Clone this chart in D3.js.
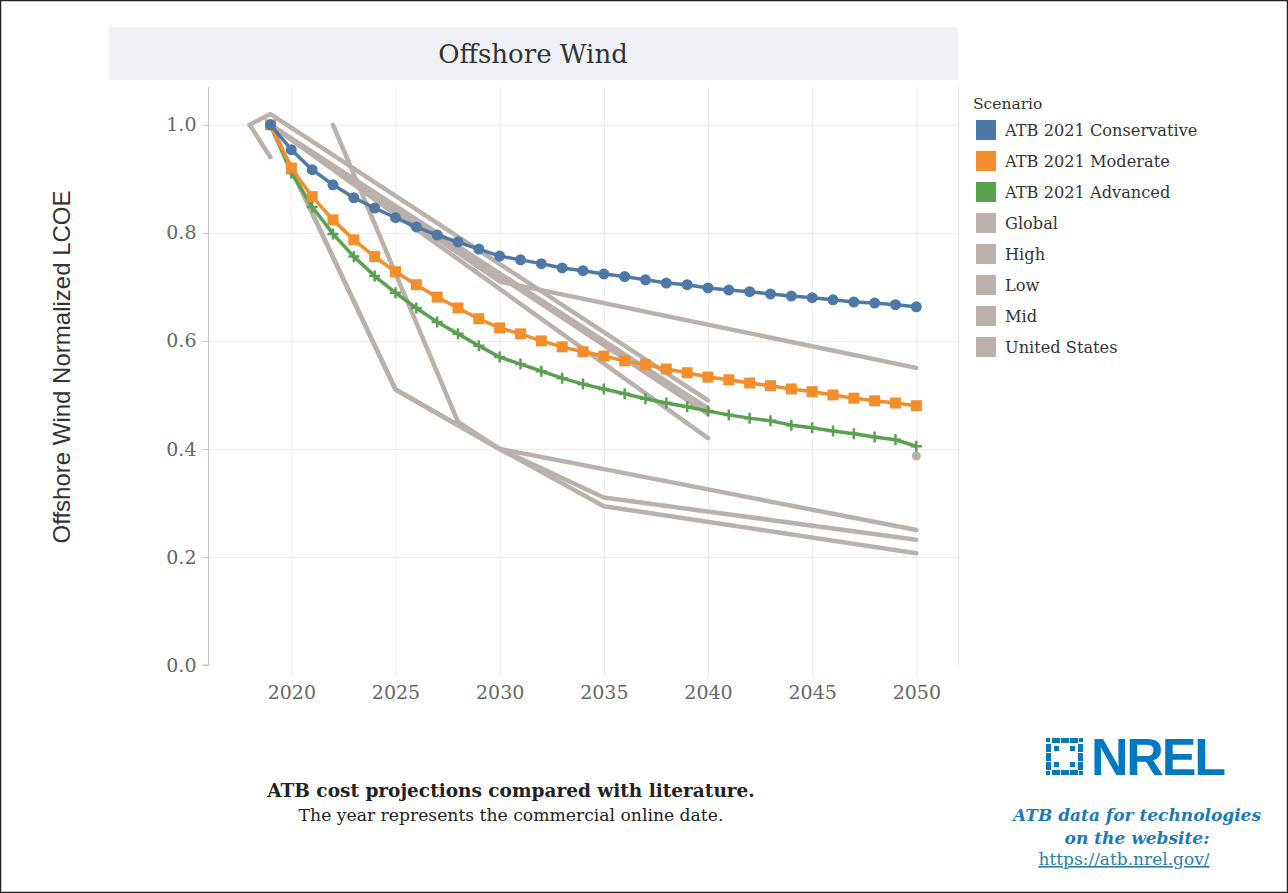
<!DOCTYPE html>
<html>
<head>
<meta charset="utf-8">
<script src="https://cdn.jsdelivr.net/npm/d3@7"></script>
<style>
  body { margin: 0; background: #fff; }
  svg { display: block; }
</style>
</head>
<body>
<div id="chart"></div>
<script>
// ATB 2021 scenarios, one value per year from 2019
const years = d3.range(2019, 2051);
const conservative = [1.0, 0.954, 0.917, 0.889, 0.865, 0.846, 0.828, 0.811, 0.796, 0.783,
  0.770, 0.757, 0.750, 0.743, 0.735, 0.730, 0.724, 0.719, 0.713, 0.707, 0.704, 0.698,
  0.694, 0.691, 0.687, 0.683, 0.680, 0.676, 0.672, 0.670, 0.667, 0.663];
const moderate = [1.0, 0.920, 0.867, 0.824, 0.787, 0.756, 0.728, 0.704, 0.681, 0.661,
  0.641, 0.624, 0.613, 0.600, 0.589, 0.580, 0.572, 0.563, 0.556, 0.548, 0.541, 0.533,
  0.528, 0.522, 0.517, 0.511, 0.506, 0.500, 0.494, 0.489, 0.485, 0.480];
const advanced = [1.0, 0.911, 0.848, 0.798, 0.756, 0.720, 0.689, 0.661, 0.635, 0.613,
  0.591, 0.570, 0.557, 0.544, 0.531, 0.520, 0.511, 0.502, 0.493, 0.485, 0.478, 0.470,
  0.463, 0.457, 0.452, 0.444, 0.439, 0.433, 0.428, 0.422, 0.417, 0.405];

// literature projections, [year, value]
const literature = [
  [[2018, 1.0], [2019, 0.94]],
  [[2018, 1.0], [2019, 1.02], [2040, 0.49]],
  [[2019, 1.0], [2040, 0.475]],
  [[2019, 1.0], [2040, 0.465]],
  [[2019, 1.0], [2040, 0.42]],
  [[2019, 1.0], [2030, 0.71], [2050, 0.55]],
  [[2019, 1.0], [2025, 0.51], [2030, 0.40], [2035, 0.31], [2050, 0.232]],
  [[2019, 1.0], [2025, 0.51], [2030, 0.40], [2035, 0.294], [2050, 0.207]],
  [[2022, 1.0], [2028, 0.45], [2030, 0.40], [2050, 0.25]]
];
const literaturePoints = [[2050, 0.387]];

const xTicks = [2020, 2025, 2030, 2035, 2040, 2045, 2050];
const yTicks = [0, 0.2, 0.4, 0.6, 0.8, 1.0];
const legendItems = ['ATB 2021 Conservative', 'ATB 2021 Moderate', 'ATB 2021 Advanced',
  'Global', 'High', 'Low', 'Mid', 'United States'];
const legendColors = ['#4e79a7', '#f28e2b', '#59a14f', '#bab0ac', '#bab0ac', '#bab0ac', '#bab0ac', '#bab0ac'];

const W = 1288, H = 893;
const serif = "Georgia, 'DejaVu Serif', serif";
const plot = { left: 208, right: 958, top: 87, bottom: 665 };

const svg = d3.select('#chart').append('svg').attr('width', W).attr('height', H);

svg.append('rect').attr('x', 0.5).attr('y', 0.5).attr('width', W - 1).attr('height', H - 1)
  .attr('fill', '#fff').attr('stroke', '#222').attr('stroke-width', 1.5);

const x = d3.scaleLinear().domain([2016, 2052]).range([plot.left, plot.right]);
const y = d3.scaleLinear().domain([0, 1.07]).range([plot.bottom, plot.top]);

// title strip
svg.append('rect').attr('x', 109).attr('y', 27).attr('width', plot.right - 109).attr('height', 53)
  .attr('fill', '#f0f1f6');
svg.append('text').attr('x', 533).attr('y', 54).attr('dy', '0.35em')
  .attr('text-anchor', 'middle').attr('font-family', serif).attr('font-size', 26)
  .attr('fill', '#333').text('Offshore Wind');

// grid
const grid = svg.append('g').attr('stroke', '#ebebeb').attr('stroke-width', 1);
grid.selectAll('.vx').data(xTicks).join('line')
  .attr('x1', (d) => x(d) + 0.5).attr('x2', (d) => x(d) + 0.5)
  .attr('y1', plot.top).attr('y2', plot.bottom + 12);
grid.selectAll('.hy').data(yTicks.filter((d) => d > 0)).join('line')
  .attr('x1', plot.left).attr('x2', plot.right)
  .attr('y1', (d) => y(d) + 0.5).attr('y2', (d) => y(d) + 0.5);

svg.append('line').attr('x1', plot.right + 0.5).attr('x2', plot.right + 0.5)
  .attr('y1', plot.top).attr('y2', plot.bottom).attr('stroke', '#e4e4e4');

// y axis
const yAxis = svg.append('g')
  .attr('transform', `translate(${plot.left + 0.5},0)`)
  .call(d3.axisLeft(y).tickValues(yTicks).tickFormat(d3.format('.1f')).tickSize(6).tickPadding(6));
yAxis.select('.domain').attr('stroke', '#c4c4c4').attr('d', `M-6,${plot.bottom}H0V${plot.top}`);
yAxis.selectAll('.tick line').attr('stroke', '#c4c4c4');
yAxis.selectAll('.tick text').attr('font-family', serif).attr('font-size', 19).attr('fill', '#666');

// x axis labels
const xAxis = svg.append('g')
  .attr('transform', `translate(0,${plot.bottom + 12})`)
  .call(d3.axisBottom(x).tickValues(xTicks).tickFormat(d3.format('d')).tickSize(0).tickPadding(9));
xAxis.select('.domain').remove();
xAxis.selectAll('.tick text').attr('font-family', serif).attr('font-size', 19).attr('fill', '#666');

svg.append('text')
  .attr('transform', `translate(62,${(plot.top + plot.bottom) / 2 - 9}) rotate(-90)`)
  .attr('text-anchor', 'middle').attr('dy', '0.35em')
  .attr('font-family', "'Liberation Sans', Arial, sans-serif").attr('font-size', 24)
  .attr('fill', '#333').text('Offshore Wind Normalized LCOE');

// literature lines
const litLine = d3.line().x((d) => x(d[0])).y((d) => y(d[1]));
svg.append('g').selectAll('path').data(literature).join('path')
  .attr('d', litLine).attr('fill', 'none').attr('stroke', '#bab0ac')
  .attr('stroke-width', 4.5).attr('stroke-linejoin', 'round').attr('stroke-linecap', 'round');
svg.append('g').selectAll('circle').data(literaturePoints).join('circle')
  .attr('cx', (d) => x(d[0])).attr('cy', (d) => y(d[1])).attr('r', 4.5).attr('fill', '#bab0ac');

// ATB scenarios
const atbLine = d3.line().x((d, i) => x(years[i])).y((d) => y(d));
const scenarios = [
  { values: advanced, color: '#59a14f', marker: 'plus' },
  { values: moderate, color: '#f28e2b', marker: 'square' },
  { values: conservative, color: '#4e79a7', marker: 'circle' }
];
scenarios.forEach((s) => {
  const g = svg.append('g');
  g.append('path').attr('d', atbLine(s.values)).attr('fill', 'none')
    .attr('stroke', s.color).attr('stroke-width', 3.5).attr('stroke-linejoin', 'round');
  const pts = g.selectAll('.pt').data(s.values).join('g')
    .attr('transform', (d, i) => `translate(${x(years[i])},${y(d)})`);
  if (s.marker === 'circle') {
    pts.append('circle').attr('r', 5.5).attr('fill', s.color);
  } else if (s.marker === 'square') {
    pts.append('rect').attr('x', -5.5).attr('y', -5.5).attr('width', 11).attr('height', 11)
      .attr('fill', s.color);
  } else {
    pts.append('path').attr('d', 'M-5.5,0H5.5M0,-5.5V5.5').attr('stroke', s.color).attr('stroke-width', 2.5);
  }
});

// legend
const legend = svg.append('g').attr('transform', 'translate(973,104)');
legend.append('text').attr('x', 0).attr('y', 0).attr('dy', '0.35em')
  .attr('font-family', serif).attr('font-size', 15.5).attr('fill', '#333').text('Scenario');
const rows = legend.selectAll('.row').data(legendItems).join('g')
  .attr('transform', (d, i) => `translate(0,${26 + i * 31})`);
rows.append('rect').attr('x', 3).attr('y', -10).attr('width', 20).attr('height', 20)
  .attr('fill', (d, i) => legendColors[i]);
rows.append('text').attr('x', 32).attr('y', 0).attr('dy', '0.35em')
  .attr('font-family', serif).attr('font-size', 16.2).attr('fill', '#333').text((d) => d);

// caption
svg.append('text').attr('x', 511).attr('y', 791).attr('dy', '0.35em').attr('text-anchor', 'middle')
  .attr('font-family', serif).attr('font-size', 18.5).attr('font-weight', 'bold').attr('fill', '#222')
  .text('ATB cost projections compared with literature.');
svg.append('text').attr('x', 511).attr('y', 815).attr('dy', '0.35em').attr('text-anchor', 'middle')
  .attr('font-family', serif).attr('font-size', 17.2).attr('fill', '#222')
  .text('The year represents the commercial online date.');

// NREL logo
const blue = '#0079c1';
const logo = svg.append('g').attr('transform', 'translate(1046,738)');
const dash = [[6, 0, 8, 5], [15, 0, 8, 5], [24, 0, 8, 5], [6, 32, 8, 5], [15, 32, 8, 5], [24, 32, 8, 5],
  [0, 6, 5, 8], [0, 15, 5, 8], [0, 24, 5, 8], [32, 6, 5, 8], [32, 15, 5, 8], [32, 24, 5, 8],
  [0, 0, 4, 4], [33, 0, 4, 4], [0, 33, 4, 4], [33, 33, 4, 4],
  [8, 8, 5, 5], [24, 8, 5, 5], [8, 24, 5, 5], [24, 24, 5, 5]];
logo.selectAll('rect').data(dash).join('rect')
  .attr('x', (d) => d[0]).attr('y', (d) => d[1]).attr('width', (d) => d[2]).attr('height', (d) => d[3])
  .attr('fill', blue);
svg.append('text').attr('x', 1091).attr('y', 775)
  .attr('font-family', "'Liberation Sans', Arial, sans-serif").attr('font-size', 52)
  .attr('font-weight', 'bold').attr('fill', blue).attr('textLength', 135).text('NREL');

svg.append('text').attr('x', 1137).attr('y', 815).attr('dy', '0.35em').attr('text-anchor', 'middle')
  .attr('font-family', serif).attr('font-size', 17).attr('font-weight', 'bold').attr('font-style', 'italic')
  .attr('fill', '#1a7ab8').text('ATB data for technologies');
svg.append('text').attr('x', 1137).attr('y', 838).attr('dy', '0.35em').attr('text-anchor', 'middle')
  .attr('font-family', serif).attr('font-size', 17).attr('font-weight', 'bold').attr('font-style', 'italic')
  .attr('fill', '#1a7ab8').text('on the website:');
svg.append('text').attr('x', 1124).attr('y', 859).attr('dy', '0.35em').attr('text-anchor', 'middle')
  .attr('font-family', serif).attr('font-size', 17).attr('fill', '#2f7fa6')
  .attr('text-decoration', 'underline').text('https://atb.nrel.gov/');
</script>
</body>
</html>
